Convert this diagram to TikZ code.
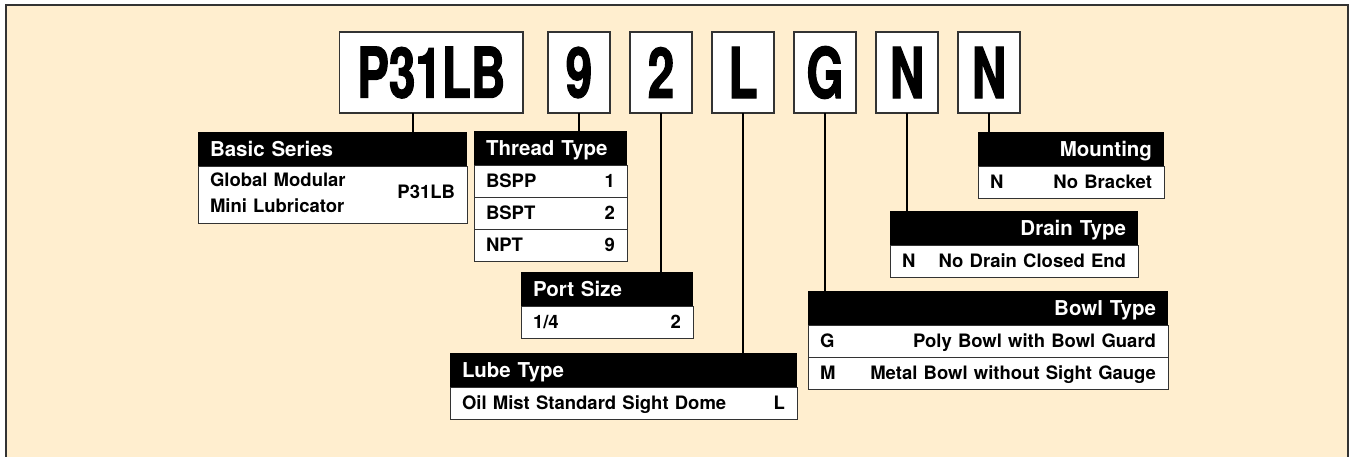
\documentclass[tikz,border=0pt]{standalone}
\usepackage{fontspec}
\setmainfont{TeX Gyre Heros}
\newfontfamily\codefont[FakeStretch=0.68, FakeBold=1.5]{TeX Gyre Heros}
\usetikzlibrary{positioning}
\definecolor{cream}{RGB}{255,238,207}
\definecolor{rim}{RGB}{51,51,51}

\begin{document}
\begin{tikzpicture}[x=1pt, y=-1pt, node distance=0pt and 20pt]
    \tikzstyle{code} = [rectangle, draw=rim, line width=1.8pt, fill=white, minimum width=62pt, minimum height=81pt, inner sep=0pt, outer sep=0pt, font=\codefont\bfseries\fontsize{70}{70}\selectfont]
    \tikzstyle{head} = [rectangle, fill=black, text=white, minimum height=34pt, inner xsep=12pt, inner ysep=0pt, outer sep=0pt, text height=14.8pt, text depth=0pt, font=\bfseries\fontsize{20.5}{24}\selectfont]
    \tikzstyle{cell} = [rectangle, draw=rim, line width=1pt, fill=white, minimum height=32pt, inner xsep=12pt, inner ysep=0pt, outer sep=0pt, align=left, font=\bfseries\fontsize{18.5}{26}\selectfont]
    \tikzstyle{row} = [cell, text height=13.3pt, text depth=0pt]
    \tikzstyle{link} = [line width=2pt, black]

    \useasboundingbox (0,0) rectangle (1349,456);
    \draw [rim, line width=1.5pt, fill=cream] (6,5) rectangle (1348,470);

    % Nodes
    \node (c_series) [code, minimum width=183.5pt, anchor=north west] at (339.5,32) {P31LB};
    \node (c_thread) [code, right=25pt of c_series] {9};
    \node (c_port) [code, right=of c_thread] {2};
    \node (c_lube) [code, right=of c_port] {L};
    \node (c_bowl) [code, right=of c_lube] {G};
    \node (c_drain) [code, right=of c_bowl] {N};
    \node (c_mount) [code, right=of c_drain] {N};

    \node (b_series) [head, text width=245pt, align=left, anchor=north west] at (198,132) {Basic Series};
    \node (b_series_a) [cell, text width=245pt, minimum height=57pt, below=of b_series] {\begin{tabular}{@{}l@{}}Global Modular\\Mini Lubricator\end{tabular}\hfill P31LB\hspace*{3pt}};

    \node (b_thread) [head, text width=129pt, align=left, anchor=north west] at (474,131) {Thread Type};
    \node (b_thread_a) [row, text width=129pt, below=of b_thread] {BSPP\hfill 1};
    \node (b_thread_b) [row, text width=129pt, below=of b_thread_a] {BSPT\hfill 2};
    \node (b_thread_c) [row, text width=129pt, below=of b_thread_b] {NPT\hfill 9};

    \node (b_port) [head, text width=148pt, align=left, anchor=north west] at (521,272) {Port Size};
    \node (b_port_a) [row, text width=148pt, below=of b_port] {1/4\hfill 2\hspace*{12pt}};

    \node (b_lube) [head, text width=323pt, align=left, anchor=north west] at (450,353) {Lube Type};
    \node (b_lube_a) [row, text width=323pt, below=of b_lube] {Oil Mist Standard Sight Dome\hfill L\hspace*{15pt}};

    \node (b_mount) [head, text width=162pt, align=right, anchor=north west] at (978,132) {Mounting};
    \node (b_mount_a) [row, text width=162pt, below=of b_mount] {N\hfill No Bracket};

    \node (b_drain) [head, text width=224pt, align=right, anchor=north west] at (890,211) {Drain Type};
    \node (b_drain_a) [row, text width=224pt, below=of b_drain] {N\hfill No Drain Closed End};

    \node (b_bowl) [head, text width=336pt, align=right, anchor=north west] at (808,291) {Bowl Type};
    \node (b_bowl_a) [row, text width=336pt, below=of b_bowl] {G\hfill Poly Bowl with Bowl Guard};
    \node (b_bowl_b) [row, text width=336pt, below=of b_bowl_a] {M\hfill Metal Bowl without Sight Gauge};

    % Lines
    \draw [link] ([xshift=-18pt]c_series.south) -- ([xshift=-18pt]c_series.south |- b_series.north);
    \draw [link] (c_thread.south) -- (c_thread.south |- b_thread.north);
    \draw [link] (c_port.south) -- (c_port.south |- b_port.north);
    \draw [link] (c_lube.south) -- (c_lube.south |- b_lube.north);
    \draw [link] (c_bowl.south) -- (c_bowl.south |- b_bowl.north);
    \draw [link] (c_drain.south) -- (c_drain.south |- b_drain.north);
    \draw [link] (c_mount.south) -- (c_mount.south |- b_mount.north);
\end{tikzpicture}
\end{document}
